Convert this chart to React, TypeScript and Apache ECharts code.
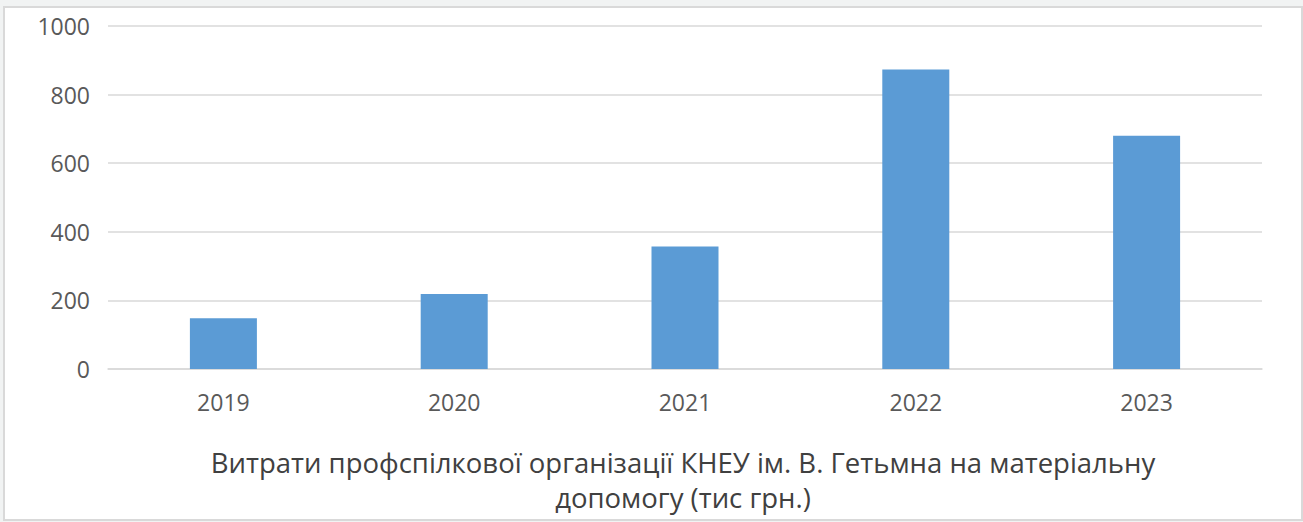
import React, { useEffect, useRef } from "react";
import * as echarts from "echarts";

const categories = ["2019", "2020", "2021", "2022", "2023"];
const values = [148, 219, 357, 873, 680];
const titleLines = [
  "Витрати профспілкової організації КНЕУ ім. В. Гетьмна на матеріальну",
  "допомогу (тис грн.)",
];
const yMin = 0;
const yMax = 1000;
const yInterval = 200;

const FONT = "'Open Sans', 'Noto Sans', sans-serif";

export default function App() {
  const ref = useRef<HTMLDivElement>(null);

  useEffect(() => {
    if (!ref.current) return;
    const chart = echarts.init(ref.current, null, { renderer: "svg" });
    chart.setOption({
      animation: false,
      backgroundColor: "transparent",
      textStyle: { fontFamily: FONT },
      grid: { left: 108, right: 41, top: 26, bottom: 153, containLabel: false },
      xAxis: {
        type: "category",
        data: categories,
        axisLine: { show: true, lineStyle: { color: "#d9d9d9", width: 1.5 } },
        axisTick: { show: false },
        axisLabel: { color: "#595959", fontSize: 23, margin: 21, fontFamily: FONT },
      },
      yAxis: {
        type: "value",
        min: yMin,
        max: yMax,
        interval: yInterval,
        axisLine: { show: false },
        axisTick: { show: false },
        splitLine: { lineStyle: { color: "#d9d9d9", width: 1.5 } },
        axisLabel: {
          color: "#595959",
          fontSize: 23,
          margin: 18,
          fontFamily: FONT,
          formatter: (v: number) => String(v),
        },
      },
      series: [
        {
          type: "bar",
          data: values,
          barWidth: 67,
          itemStyle: { color: "#5B9BD5" },
        },
      ],
      graphic: [
        {
          type: "text",
          x: 683,
          y: 480,
          style: {
            text: titleLines.join("\n"),
            align: "center",
            verticalAlign: "middle",
            fontSize: 27.5,
            lineHeight: 35,
            fill: "#404040",
            fontFamily: FONT,
          },
        },
      ],
    });
    return () => chart.dispose();
  }, []);

  return (
    <div
      style={{
        position: "fixed",
        left: 0,
        top: 0,
        width: 1303,
        height: 522,
        background: "#f1f3f3",
      }}
    >
      <div
        style={{
          position: "absolute",
          left: 3,
          top: 6,
          width: 1296,
          height: 511,
          background: "#ffffff",
          border: "2px solid #d9d9d9",
        }}
      />
      <div
        ref={ref}
        style={{ position: "absolute", left: 0, top: 0, width: 1303, height: 522 }}
      />
    </div>
  );
}
